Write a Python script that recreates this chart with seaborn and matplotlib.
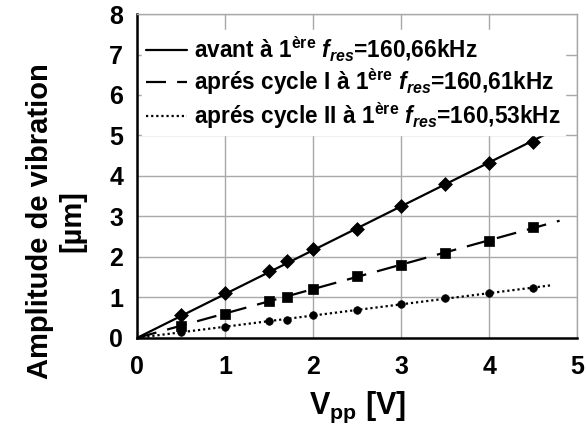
import numpy as np
import pandas as pd
import matplotlib
matplotlib.use("Agg")
import matplotlib.pyplot as plt
import seaborn as sns

# Vpp values (V) and vibration amplitude (um) for each measurement
vpp = [0.5, 1.0, 1.5, 1.7, 2.0, 2.5, 3.0, 3.5, 4.0, 4.5]
amp_avant = [0.56, 1.11, 1.66, 1.89, 2.20, 2.70, 3.27, 3.79, 4.32, 4.83]
amp_cycle1 = [0.30, 0.58, 0.90, 1.02, 1.20, 1.53, 1.81, 2.10, 2.40, 2.73]
amp_cycle2 = [0.14, 0.28, 0.41, 0.45, 0.56, 0.68, 0.84, 0.98, 1.11, 1.23]
trend_end = [4.72, 4.8, 4.7]

labels = [
    r"avant à 1$^{\mathrm{ère}}$ $\mathit{f}_{\mathit{res}}$=160,66kHz",
    r"aprés cycle I à 1$^{\mathrm{ère}}$ $\mathit{f}_{\mathit{res}}$=160,61kHz",
    r"aprés cycle II à 1$^{\mathrm{ère}}$ $\mathit{f}_{\mathit{res}}$=160,53kHz",
]
markers = ["D", "s", "o"]
marker_sizes = [50, 42, 30]
dash_styles = ["-", (0, (9, 5)), (0, (1, 1.3))]

sns.set_style("white")
plt.rcParams["font.family"] = ["Liberation Sans", "DejaVu Sans"]
plt.rcParams["font.weight"] = "bold"
plt.rcParams["text.color"] = "black"
plt.rcParams["axes.labelcolor"] = "black"
plt.rcParams["xtick.labelcolor"] = "black"
plt.rcParams["ytick.labelcolor"] = "black"
plt.rcParams["mathtext.fontset"] = "custom"
plt.rcParams["mathtext.rm"] = "Liberation Sans:bold"
plt.rcParams["mathtext.it"] = "Liberation Sans:italic:bold"
plt.rcParams["mathtext.bf"] = "Liberation Sans:bold"

fig = plt.figure(figsize=(5.86, 4.25), dpi=100)
ax = fig.add_axes([0.234, 0.205, 0.751, 0.762])

series = [amp_avant, amp_cycle1, amp_cycle2]
for i, amp in enumerate(series):
    x = np.array(vpp)
    y = np.array(amp)
    # linear trendline through the origin
    slope = (x * y).sum() / (x * x).sum()
    tx = np.array([0.0, trend_end[i]])
    trend = pd.DataFrame({"x": tx, "y": slope * tx})
    sns.lineplot(data=trend, x="x", y="y", ax=ax, color="black", lw=1.6,
                 linestyle=dash_styles[i], label=labels[i])
    pts = pd.DataFrame({"x": vpp, "y": amp})
    sns.scatterplot(data=pts, x="x", y="y", ax=ax, color="black",
                    marker=markers[i], s=marker_sizes[i], edgecolor="black",
                    linewidth=0.5, zorder=3)

ax.set_xlim(0, 5)
ax.set_ylim(0, 8)
ax.set_xticks(range(0, 6))
ax.set_yticks(range(0, 9))
ax.grid(True, color="#a8a8a8", lw=1)
ax.set_axisbelow(True)

for side in ["top", "right"]:
    ax.spines[side].set_color("#a8a8a8")
    ax.spines[side].set_linewidth(1)
for side in ["left", "bottom"]:
    ax.spines[side].set_color("black")
    ax.spines[side].set_linewidth(1.8)

ax.tick_params(axis="both", direction="out", length=4, width=1,
               color="#a8a8a8", labelsize=18, pad=6)
ax.tick_params(axis="x", pad=8)
for t in ax.get_xticklabels() + ax.get_yticklabels():
    t.set_fontweight("bold")

ax.set_xlabel(r"V$_{\mathrm{pp}}$ [V]", fontsize=22, fontweight="bold", labelpad=8)
ax.set_ylabel("Amplitude de vibration\n[µm]", fontsize=21, fontweight="bold",
              linespacing=1.2)
ax.yaxis.set_label_coords(-0.115, 0.36)

leg = ax.legend(loc="upper left", bbox_to_anchor=(0.0, 0.965), frameon=True,
                fancybox=False, edgecolor="white", framealpha=1,
                prop={"size": 16.3, "weight": "bold"}, handlelength=1.8,
                handletextpad=0.3, borderaxespad=0.2, labelspacing=0.12,
                borderpad=0.2)

fig.savefig("out.png", dpi=100)
